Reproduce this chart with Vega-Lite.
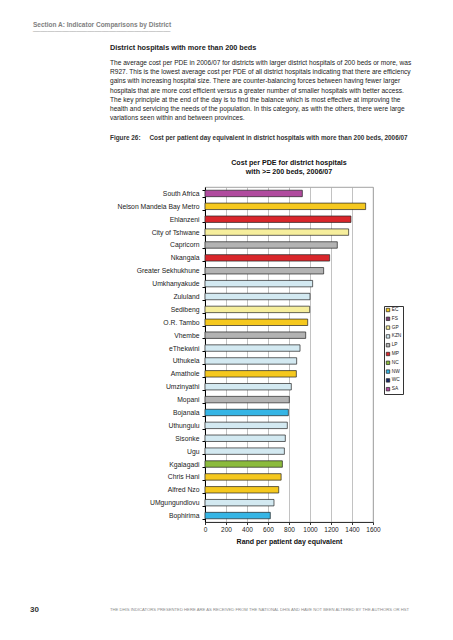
{
  "$schema": "https://vega.github.io/schema/vega-lite/v6.json",
  "background": "white",
  "padding": {"left": 30, "top": 22, "right": 80, "bottom": 0},
  "config": {
    "font": "Liberation Sans",
    "view": {"stroke": null},
    "concat": {"spacing": 0}
  },
  "title": {
    "text": "30",
    "orient": "bottom",
    "anchor": "start",
    "frame": "group",
    "dx": -175,
    "fontSize": 8,
    "fontWeight": "bold",
    "color": "#333",
    "offset": -7
  },
  "vconcat": [
    {
      "title": {
        "text": "THE DHIS INDICATORS PRESENTED HERE ARE AS RECEIVED FROM THE NATIONAL DHIS AND HAVE NOT BEEN ALTERED BY THE AUTHORS OR HST",
        "orient": "bottom",
        "anchor": "start",
        "frame": "group",
        "dx": -95,
        "fontSize": 4.2,
        "fontWeight": "normal",
        "color": "#8a8a8a",
        "offset": 64
      },
      "vconcat": [
        {
          "title": {
            "text": "Section A: Indicator Comparisons by District",
            "subtitle": "______________________________________",
            "anchor": "start",
            "frame": "group",
            "dx": -172,
            "fontSize": 6.5,
            "fontWeight": "bold",
            "color": "#808080",
            "subtitleFontSize": 6.5,
            "subtitleColor": "#a0a0a0",
            "subtitlePadding": -4,
            "offset": 13
          },
          "vconcat": [
            {
              "title": {
                "text": "District hospitals with more than 200 beds",
                "subtitle": [
                  "The average cost per PDE in 2006/07 for districts with larger district hospitals of 200 beds or more, was",
                  "R927. This is the lowest average cost per PDE of all district hospitals indicating that there are efficiency",
                  "gains with increasing hospital size. There are counter-balancing forces between having fewer larger",
                  "hospitals that are more cost efficient versus a greater number of smaller hospitals with better access.",
                  "The key principle at the end of the day is to find the balance which is most effective at improving the",
                  "health and servicing the needs of the population. In this category, as with the others, there were large",
                  "variations seen within and between provinces."
                ],
                "anchor": "start",
                "frame": "group",
                "dx": -95,
                "fontSize": 7.3,
                "fontWeight": "bold",
                "color": "#222",
                "subtitleFontSize": 6.6,
                "subtitleColor": "#222",
                "subtitleLineHeight": 9.3,
                "subtitlePadding": 8,
                "offset": 13
              },
              "vconcat": [
                {
                  "title": {
                    "text": "Figure 26:\u00a0\u00a0\u00a0\u00a0\u00a0Cost per patient day equivalent in district hospitals with more than 200 beds, 2006/07",
                    "anchor": "start",
                    "frame": "group",
                    "dx": -95,
                    "fontSize": 6.4,
                    "fontWeight": "bold",
                    "color": "#333",
                    "offset": 17
                  },
                  "vconcat": [
                    {
                      "width": 168,
                      "height": 335,
                      "title": {
                        "text": ["Cost per PDE for district hospitals", "with >= 200 beds, 2006/07"],
                        "fontSize": 7.1,
                        "fontWeight": "bold",
                        "color": "#111",
                        "anchor": "middle",
                        "lineHeight": 9,
                        "offset": 9
                      },
                      "view": {"stroke": "#8c8c8c", "strokeWidth": 0.8},
                      "data": {
                        "values": [
                          {"district": "South Africa", "prov": "SA", "cost": 927},
                          {"district": "Nelson Mandela Bay Metro", "prov": "EC", "cost": 1530},
                          {"district": "Ehlanzeni", "prov": "MP", "cost": 1390},
                          {"district": "City of Tshwane", "prov": "GP", "cost": 1368},
                          {"district": "Capricorn", "prov": "LP", "cost": 1260},
                          {"district": "Nkangala", "prov": "MP", "cost": 1187},
                          {"district": "Greater Sekhukhune", "prov": "LP", "cost": 1130},
                          {"district": "Umkhanyakude", "prov": "KZN", "cost": 1025},
                          {"district": "Zululand", "prov": "KZN", "cost": 1000},
                          {"district": "Sedibeng", "prov": "GP", "cost": 997},
                          {"district": "O.R. Tambo", "prov": "EC", "cost": 978},
                          {"district": "Vhembe", "prov": "LP", "cost": 959},
                          {"district": "eThekwini", "prov": "KZN", "cost": 905},
                          {"district": "Uthukela", "prov": "KZN", "cost": 873},
                          {"district": "Amathole", "prov": "EC", "cost": 870},
                          {"district": "Umzinyathi", "prov": "KZN", "cost": 822},
                          {"district": "Mopani", "prov": "LP", "cost": 803},
                          {"district": "Bojanala", "prov": "NW", "cost": 794},
                          {"district": "Uthungulu", "prov": "KZN", "cost": 784},
                          {"district": "Sisonke", "prov": "KZN", "cost": 765},
                          {"district": "Ugu", "prov": "KZN", "cost": 756},
                          {"district": "Kgalagadi", "prov": "NC", "cost": 737},
                          {"district": "Chris Hani", "prov": "EC", "cost": 725},
                          {"district": "Alfred Nzo", "prov": "EC", "cost": 702},
                          {"district": "UMgungundlovu", "prov": "KZN", "cost": 657},
                          {"district": "Bophirima", "prov": "NW", "cost": 622}
                        ]
                      },
                      "mark": {"type": "bar", "stroke": "#222", "strokeWidth": 0.7},
                      "encoding": {
                        "y": {
                          "field": "district",
                          "type": "nominal",
                          "sort": null,
                          "scale": {"paddingInner": 0.5, "paddingOuter": 0.25},
                          "axis": {
                            "title": null,
                            "grid": false,
                            "domainColor": "#000",
                            "domainWidth": 1,
                            "tickColor": "#000",
                            "tickSize": 3,
                            "tickBand": "extent",
                            "labelFontSize": 6.8,
                            "labelColor": "#222",
                            "labelPadding": 3
                          }
                        },
                        "x": {
                          "field": "cost",
                          "type": "quantitative",
                          "scale": {"domain": [0, 1600], "nice": false},
                          "axis": {
                            "values": [0, 200, 400, 600, 800, 1000, 1200, 1400, 1600],
                            "format": "d",
                            "title": "Rand per patient day equivalent",
                            "grid": true,
                            "gridColor": "#a8a8a8",
                            "gridWidth": 0.7,
                            "domainColor": "#333",
                            "tickColor": "#333",
                            "tickSize": 2.5,
                            "labelFontSize": 6.5,
                            "labelColor": "#222",
                            "labelPadding": 2,
                            "labelFlush": false,
                            "titleFontSize": 7,
                            "titleFontWeight": "bold",
                            "titleColor": "#111",
                            "titlePadding": 4
                          }
                        },
                        "color": {
                          "field": "prov",
                          "type": "nominal",
                          "scale": {
                            "domain": ["EC", "FS", "GP", "KZN", "LP", "MP", "NC", "NW", "WC", "SA"],
                            "range": ["#f5c81e", "#7b3f73", "#f6ee9c", "#d3e9f1", "#b3b3b3", "#d9262b", "#8bbb3c", "#35b5e5", "#1a2a6c", "#b04a9e"]
                          },
                          "legend": {
                            "title": null,
                            "orient": "none",
                            "legendX": 179,
                            "legendY": 119,
                            "strokeColor": "#333",
                            "padding": 1.5,
                            "symbolType": "square",
                            "symbolSize": 12,
                            "symbolStrokeColor": "#222",
                            "symbolStrokeWidth": 0.7,
                            "symbolOpacity": 1,
                            "labelFontSize": 4.8,
                            "labelColor": "#222",
                            "labelOffset": 1.2,
                            "rowPadding": 1.8
                          }
                        }
                      }
                    }
                  ]
                }
              ]
            }
          ]
        }
      ]
    }
  ]
}
